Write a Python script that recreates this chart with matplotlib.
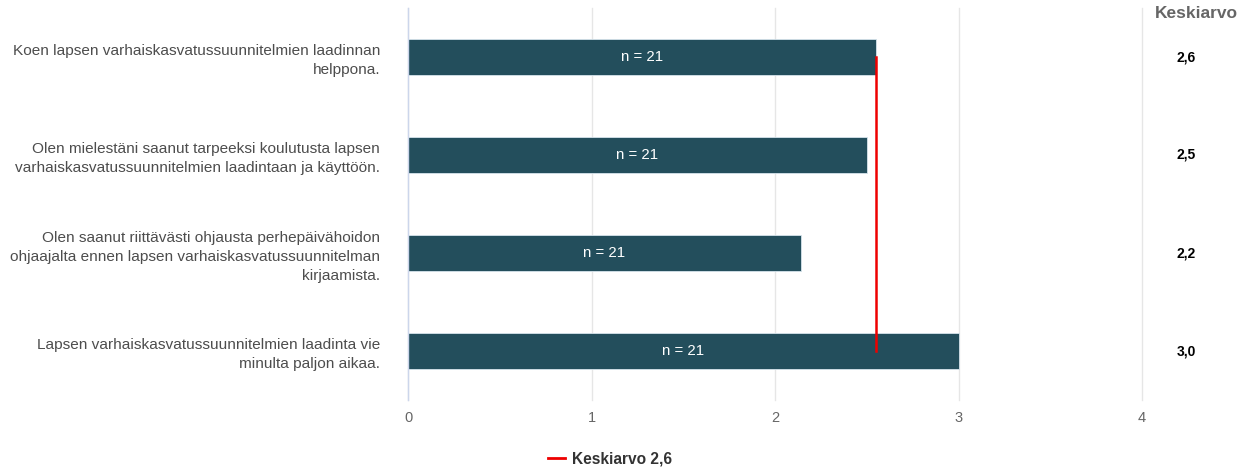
import numpy as np
import matplotlib.pyplot as plt
from matplotlib.lines import Line2D

plt.rcParams['font.family'] = ['Liberation Sans', 'DejaVu Sans']

labels = ['Koen lapsen varhaiskasvatussuunnitelmien laadinnan\nhelppona.',
          'Olen mielestäni saanut tarpeeksi koulutusta lapsen\nvarhaiskasvatussuunnitelmien laadintaan ja käyttöön.',
          'Olen saanut riittävästi ohjausta perhepäivähoidon\nohjaajalta ennen lapsen varhaiskasvatussuunnitelman\nkirjaamista.',
          'Lapsen varhaiskasvatussuunnitelmien laadinta vie\nminulta paljon aikaa.']
values = [2.55, 2.50, 2.14, 3.0]
n_counts = [21, 21, 21, 21]
mean_labels = ['2,6', '2,5', '2,2', '3,0']
overall_mean = 2.55
overall_label = 'Keskiarvo 2,6'

fig = plt.figure(figsize=(12.51, 4.68), dpi=100)
ax = fig.add_axes([408/1251, 1-400/468, 734/1251, 392/468])

y = np.arange(len(labels))
ax.barh(y, values, height=0.36, color='#234e5c', edgecolor='#d6e4ec', linewidth=0.6, zorder=2)
for i in range(len(labels)):
    ax.text(values[i]/2, y[i], 'n = %d' % n_counts[i], color='white', fontsize=10.8,
            ha='center', va='center', zorder=3)
    ax.text(1186/1251, 1-(57+98*i)/468, mean_labels[i], transform=fig.transFigure,
            fontsize=10, fontweight='bold', color='black', ha='center', va='center')

ax.plot([overall_mean, overall_mean], [y[0], y[-1]], color='#ee0000', linewidth=1.8, zorder=4)

ax.set_ylim(len(labels)-0.5, -0.5)
ax.set_xlim(0, 4)
ax.set_xticks([0, 1, 2, 3, 4])
ax.set_xticklabels(['0', '1', '2', '3', '4'])
ax.set_yticks(y)
ax.set_yticklabels(labels, fontsize=11.1, color='#4d4d4d', linespacing=1.45)
ax.tick_params(axis='y', length=0, pad=20)
ax.tick_params(axis='x', length=0, pad=8, labelsize=10.5, labelcolor='#666666')
ax.grid(True, axis='x', color='#e6e6e6', linewidth=1, zorder=0)
for gl in ax.get_xgridlines():
    gl.set_clip_on(False)
for s in ['top', 'right', 'bottom']:
    ax.spines[s].set_visible(False)
ax.spines['left'].set_color('#ccd6eb')
ax.spines['left'].set_linewidth(1)

fig.text(1196/1251, 1-14/468, 'Keskiarvo', fontsize=12.5, fontweight='bold',
         color='#666666', ha='center', va='center')

handle = Line2D([], [], color='#ee0000', linewidth=2)
fig.legend([handle], [overall_label], loc='center', bbox_to_anchor=(610/1251, 1-459/468),
           frameon=False, handlelength=1.1, handletextpad=0.5,
           prop={'weight': 'bold', 'size': 11.2})
for t in fig.legends[0].get_texts():
    t.set_color('#333333')

fig.savefig('out.png', dpi=100)
